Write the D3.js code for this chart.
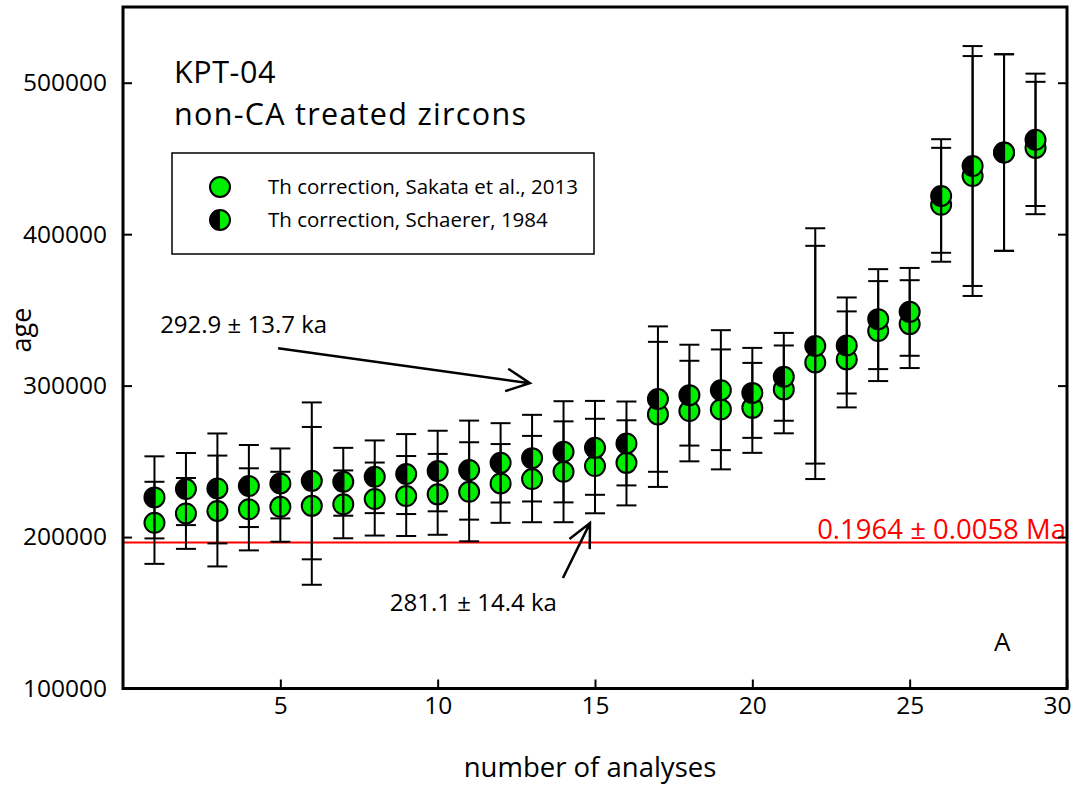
<!DOCTYPE html>
<html><head><meta charset="utf-8">
<script src="https://cdn.jsdelivr.net/npm/d3@7"></script>
<style>body{margin:0;background:#fff}svg{display:block}text{font-family:"Open Sans",sans-serif}</style>
</head><body>
<svg id="c" width="1074" height="785"></svg>
<script>
const analyses = d3.range(1, 30);
const sakata = [209400, 215600, 217200, 218300, 220000, 220600, 221600, 225100, 227100, 228200, 229900, 235400, 238300, 243100, 246900, 249000, 281000, 283200, 284300, 285300, 297500, 315300, 317300, 336000, 340600, 419400, 438400, 453900, 456900];
const sakataErr = [27100, 23400, 36600, 27100, 23100, 52100, 22400, 24100, 26400, 26700, 32700, 26000, 28500, 33300, 31200, 28100, 47900, 33200, 39600, 29700, 29000, 77000, 31700, 33000, 29000, 37600, 79200, 64900, 43700];
const schaerer = [226200, 231700, 232100, 233700, 235400, 237100, 236500, 239800, 241600, 243600, 244200, 249000, 252100, 256300, 258900, 261800, 291100, 293700, 297000, 295200, 305800, 326200, 326500, 343900, 348700, 425200, 445000, 453900, 462300];
const schaererErr = [27100, 23800, 36300, 27100, 23100, 51800, 22400, 24000, 26400, 26600, 32700, 26200, 28600, 33400, 31000, 27700, 48000, 33300, 39600, 29700, 29000, 77700, 31700, 33000, 29000, 37500, 79200, 64900, 43700];
const xTicks = [5, 10, 15, 20, 25, 30];
const yTicks = [100000, 200000, 300000, 400000, 500000];
const refAge = 196400;
const refLabel = "0.1964 ± 0.0058 Ma";
const seriesNames = ["Th correction, Sakata et al., 2013", "Th correction, Schaerer, 1984"];
const annotations = [
  {text: "292.9 ± 13.7 ka", tx: 1.18, ty: 335000, x1: 4.93, y1: 324700, x2: 12.93, y2: 301600},
  {text: "281.1 ± 14.4 ka", tx: 8.48, ty: 151000, x1: 13.98, y1: 173000, x2: 14.84, y2: 209200}
];

const GREEN = "#00ee00";
const svg = d3.select("#c");
const L = 123, R = 1067, T = 7, B = 688.5;
const x = d3.scaleLinear().domain([0, 30]).range([L, R]);
const y = d3.scaleLinear().domain([100000, 550000]).range([B, T]);
const r = 10;

// reference line
svg.append("line").attr("x1", L).attr("x2", R).attr("y1", y(refAge)).attr("y2", y(refAge))
  .attr("stroke", "#ff0000").attr("stroke-width", 2);
svg.append("text").attr("x", R - 1).attr("y", y(refAge) - 4).attr("text-anchor", "end")
  .attr("fill", "#ff0000").attr("font-size", 27.5).text(refLabel);

// markers
const g = svg.append("g");
function halfCircle(sel) {
  sel.each(function(d) {
    const s = d3.select(this);
    s.append("circle").attr("r", r).attr("fill", GREEN);
    s.append("path").attr("d", d3.arc()({innerRadius: 0, outerRadius: r, startAngle: Math.PI, endAngle: 2 * Math.PI})).attr("fill", "#000");
    s.append("circle").attr("r", r).attr("fill", "none").attr("stroke", "#000").attr("stroke-width", 2);
  });
}
g.selectAll(".gs").data(analyses).join("circle").attr("class", "gs")
  .attr("cx", d => x(d)).attr("cy", (d, i) => y(sakata[i])).attr("r", r)
  .attr("fill", GREEN).attr("stroke", "#000").attr("stroke-width", 2);
g.selectAll(".bs").data(analyses).join("g").attr("class", "bs")
  .attr("transform", (d, i) => `translate(${x(d)},${y(schaerer[i])})`).call(halfCircle);

// error bars
function errBars(vals, errs) {
  const eg = svg.append("g").attr("stroke", "#000").attr("stroke-width", 2);
  analyses.forEach((d, i) => {
    const cx = x(d), lo = y(vals[i] - errs[i]), hi = y(vals[i] + errs[i]);
    eg.append("line").attr("x1", cx).attr("x2", cx).attr("y1", lo).attr("y2", hi);
    eg.append("line").attr("x1", cx - 10).attr("x2", cx + 10).attr("y1", lo).attr("y2", lo);
    eg.append("line").attr("x1", cx - 10).attr("x2", cx + 10).attr("y1", hi).attr("y2", hi);
  });
}
errBars(sakata, sakataErr);
errBars(schaerer, schaererErr);

// frame
svg.append("rect").attr("x", L).attr("y", T).attr("width", R - L).attr("height", B - T)
  .attr("fill", "none").attr("stroke", "#000").attr("stroke-width", 3);

// axes
const xAxis = svg.append("g").attr("transform", `translate(0,${B})`)
  .call(d3.axisBottom(x).tickValues(xTicks).tickSizeInner(-9).tickSizeOuter(0).tickPadding(8));
const yAxis = svg.append("g").attr("transform", `translate(${L},0)`)
  .call(d3.axisLeft(y).tickValues(yTicks).tickSizeInner(-9).tickSizeOuter(0).tickPadding(16).tickFormat(d3.format("d")));
const yAxisR = svg.append("g").attr("transform", `translate(${R},0)`)
  .call(d3.axisRight(y).tickValues(yTicks).tickSizeInner(-9).tickSizeOuter(0).tickFormat(""));
[xAxis, yAxis, yAxisR].forEach(a => {
  a.select(".domain").remove();
  a.selectAll(".tick line").attr("stroke-width", 2);
  a.selectAll("text").attr("font-size", 24.5).attr("font-family", "'Open Sans',sans-serif").attr("fill", "#000");
});
xAxis.selectAll(".tick").filter(d => d === 30).select("text").attr("text-anchor", "end").attr("dx", 4);

svg.append("text").attr("x", 590).attr("y", 777).attr("text-anchor", "middle").attr("font-size", 27.5).text("number of analyses");
svg.append("text").attr("transform", "translate(31,330) rotate(-90)").attr("text-anchor", "middle").attr("font-size", 27).text("age");

// title
svg.append("text").attr("x", 174).attr("y", 83).attr("font-size", 30.5).attr("letter-spacing", 0.6).text("KPT-04");
svg.append("text").attr("x", 174).attr("y", 125).attr("font-size", 30.5).attr("letter-spacing", 1.3).text("non-CA treated zircons");

// legend
svg.append("rect").attr("x", 172).attr("y", 153).attr("width", 422).attr("height", 101)
  .attr("fill", "#fff").attr("stroke", "#000").attr("stroke-width", 1.5);
svg.append("circle").attr("cx", 220).attr("cy", 187).attr("r", r).attr("fill", GREEN).attr("stroke", "#000").attr("stroke-width", 2);
svg.append("g").attr("transform", "translate(220,220)").datum(0).call(halfCircle);
svg.append("text").attr("x", 268).attr("y", 194).attr("font-size", 20.5).text(seriesNames[0]);
svg.append("text").attr("x", 268).attr("y", 227).attr("font-size", 20.5).text(seriesNames[1]);

// annotations
annotations.forEach(a => {
  svg.append("text").attr("x", x(a.tx)).attr("y", y(a.ty)).attr("font-size", 24).text(a.text);
  const X1 = x(a.x1), Y1 = y(a.y1), X2 = x(a.x2), Y2 = y(a.y2);
  const ang = Math.atan2(Y2 - Y1, X2 - X1), hl = 26, ha = 0.45;
  const p = d3.path();
  p.moveTo(X1, Y1); p.lineTo(X2, Y2);
  p.moveTo(X2 - hl * Math.cos(ang - ha), Y2 - hl * Math.sin(ang - ha));
  p.lineTo(X2, Y2);
  p.lineTo(X2 - hl * Math.cos(ang + ha), Y2 - hl * Math.sin(ang + ha));
  svg.append("path").attr("d", p.toString()).attr("fill", "none").attr("stroke", "#000").attr("stroke-width", 2.5);
});

svg.append("text").attr("x", 994).attr("y", 651).attr("font-size", 26).text("A");
</script>
</body></html>
